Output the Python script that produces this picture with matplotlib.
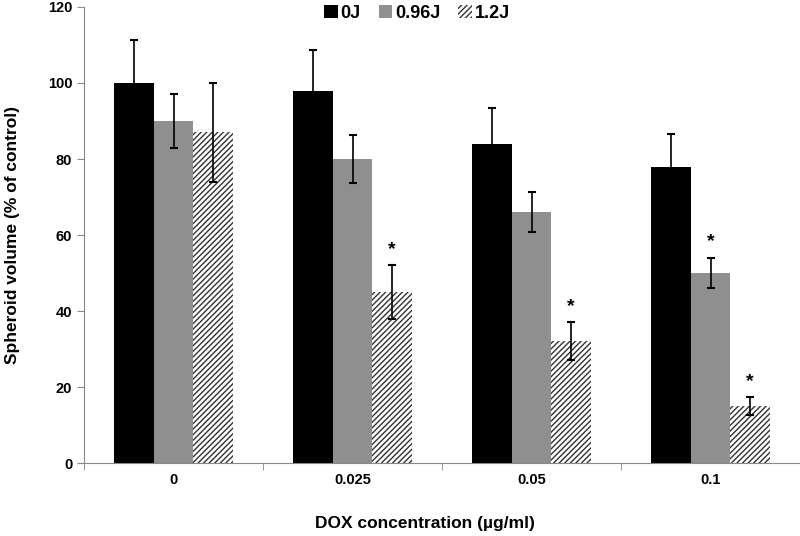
import numpy as np
import matplotlib; matplotlib.use("Agg"); import matplotlib.pyplot as plt
from matplotlib.patches import Patch

plt.rcParams['font.family'] = ['Liberation Sans', 'DejaVu Sans']
plt.rcParams['font.weight'] = 'bold'
plt.rcParams['hatch.linewidth'] = 1.0

# --- datos ---
conc = ["0", "0.025", "0.05", "0.1"]
series = ["0J", "0.96J", "1.2J"]
v_0J   = [100, 98, 84, 78]
v_096J = [90, 80, 66, 50]
v_12J  = [87, 45, 32, 15]
e_0J   = [11.2, 10.8, 9.3, 8.7]
e_096J = [7.2, 6.4, 5.2, 4.0]
e_12J  = [13.0, 7.0, 5.0, 2.3]
star_096J = [False, False, False, True]
star_12J  = [False, True, True, True]

vals = [v_0J, v_096J, v_12J]
errs = [e_0J, e_096J, e_12J]
stars = [[False]*4, star_096J, star_12J]
colors = ["black", "#8f8f8f", "white"]
hatches = [None, None, "//////"]

fig = plt.figure(figsize=(8, 5.36), dpi=100)
ax = fig.add_axes([0.105, 0.136, 0.895, 0.851])
x = np.arange(len(conc)); w = 0.222
for i in range(3):
    xi = x + (i-1)*w
    ax.bar(xi, vals[i], w, color=colors[i], hatch=hatches[i], edgecolor="none" if i < 2 else "#333333",
           linewidth=0, zorder=2)
    ax.errorbar(xi, vals[i], yerr=errs[i], fmt="none", ecolor="black", elinewidth=1.2,
                capsize=3, capthick=1.5, zorder=3)
    for j in range(4):
        if stars[i][j]:
            ax.text(xi[j], vals[i][j]+errs[i][j]+2.0, "*", ha="center", va="bottom", fontsize=14)

ax.set_xlim(-0.5, 3.5); ax.set_ylim(0, 120)
ax.set_yticks(range(0, 121, 20))
ax.set_xticks(x); ax.set_xticklabels(conc)
ax.set_xticks(np.arange(-0.5, 3.6, 1), minor=True)
ax.tick_params(axis="x", which="major", length=0, pad=7, labelsize=10.5)
ax.tick_params(axis="x", which="minor", length=5, color="#888888")
ax.tick_params(axis="y", length=5, color="#888888", labelsize=10.5)
for s in ["top", "right"]: ax.spines[s].set_visible(False)
for s in ["left", "bottom"]: ax.spines[s].set_color("#888888")
ax.set_ylabel("Spheroid volume (% of control)", fontsize=12.5, fontweight="bold", labelpad=20)
ax.set_xlabel("DOX concentration (µg/ml)", fontsize=12.5, fontweight="bold")
ax.xaxis.set_label_coords(0.476, -0.115)

handles = [Patch(facecolor=colors[i], hatch=hatches[i], edgecolor="none" if i < 2 else "#333333",
                 linewidth=0) for i in range(3)]
ax.legend(handles, series, ncol=3, loc="upper center", bbox_to_anchor=(0.465, 1.04), frameon=False,
          handlelength=0.75, handleheight=0.75, handletextpad=0.15, columnspacing=1.0, fontsize=13)
fig.savefig("out.png", dpi=100)
